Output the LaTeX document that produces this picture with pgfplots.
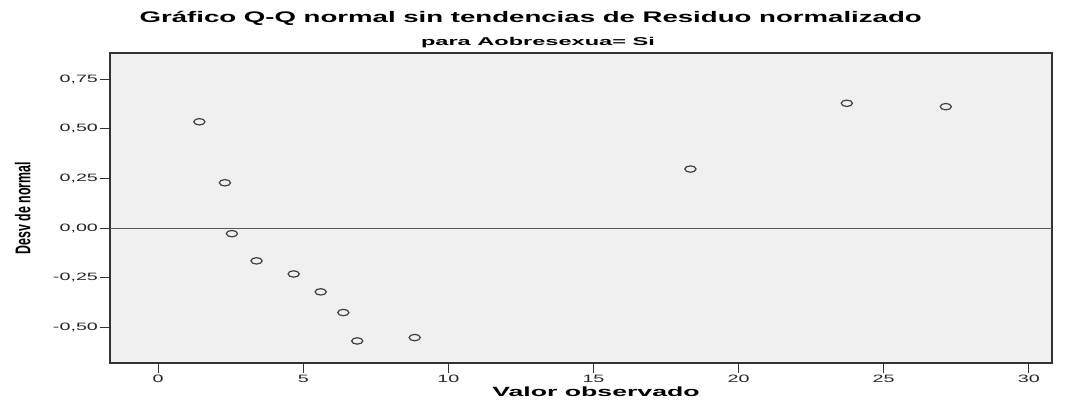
\documentclass[border=0pt]{standalone}
\usepackage{pgfplots}
\pgfplotsset{compat=1.18}
\usepackage{fontspec}
\setmainfont{Liberation Sans}
\definecolor{plotbg}{HTML}{F0F0F0}
\definecolor{markc}{HTML}{404040}
\newcommand{\wide}[1]{\scalebox{1.85}[1]{#1}}
\begin{document}
\begin{tikzpicture}
\path[use as bounding box] (0,0) rectangle (801pt,300.75pt);
\begin{axis}[
  at={(82.5pt,28.5pt)}, anchor=south west,
  scale only axis, width=706.5pt, height=232.5pt,
  xmin=-1.66, xmax=30.8, ymin=-0.678, ymax=0.882,
  axis background/.style={fill=plotbg},
  axis line style={black!80, line width=0.8pt},
  xtick={0,5,...,30}, ytick={-0.5,-0.25,0,0.25,0.5,0.75},
  xticklabels={\wide{0},\wide{5},\wide{10},\wide{15},\wide{20},\wide{25},\wide{30}},
  yticklabels={\wide{-0,50},\wide{-0,25},\wide{0,00},\wide{0,25},\wide{0,50},\wide{0,75}},
  tick align=outside, tick pos=left,
  major tick length=7.5pt,
  tick style={black!80, line width=0.8pt},
  tick label style={font=\fontsize{8}{9}\selectfont, text=black!85},
  xticklabel style={yshift=2pt},
  yticklabel style={xshift=2pt},
  clip=false,
]
\draw[black!65, line width=0.8pt] (axis cs:-1.66,0) -- (axis cs:30.8,0);
\addplot[only marks, mark=o, mark size=2.4pt, mark options={xscale=1.75, line width=0.9pt, draw=markc}] coordinates {
(1.42,0.536) (2.30,0.229) (2.54,-0.027) (3.39,-0.164) (4.67,-0.230) (5.60,-0.320)
(6.38,-0.424) (6.86,-0.567) (8.84,-0.550) (18.34,0.298) (23.73,0.629) (27.14,0.612)
};
\end{axis}
\node[font=\bfseries\fontsize{11.5}{13}\selectfont, anchor=center] at (398pt,287pt) {\scalebox{1.8}[1]{Gráfico Q-Q normal sin tendencias de Residuo normalizado}};
\node[font=\bfseries\fontsize{8.5}{10}\selectfont, anchor=center] at (403.5pt,268.5pt) {\scalebox{2.08}[1]{para Aobresexua= Si}};
\node[font=\bfseries\fontsize{10}{12}\selectfont, anchor=center] at (447pt,6.75pt) {\scalebox{2}[1]{Valor observado}};
\node[font=\bfseries\fontsize{16}{18}\selectfont, rotate=90, anchor=center] at (17pt,144.75pt) {\scalebox{0.58}[1]{Desv de normal}};
\end{tikzpicture}
\end{document}
